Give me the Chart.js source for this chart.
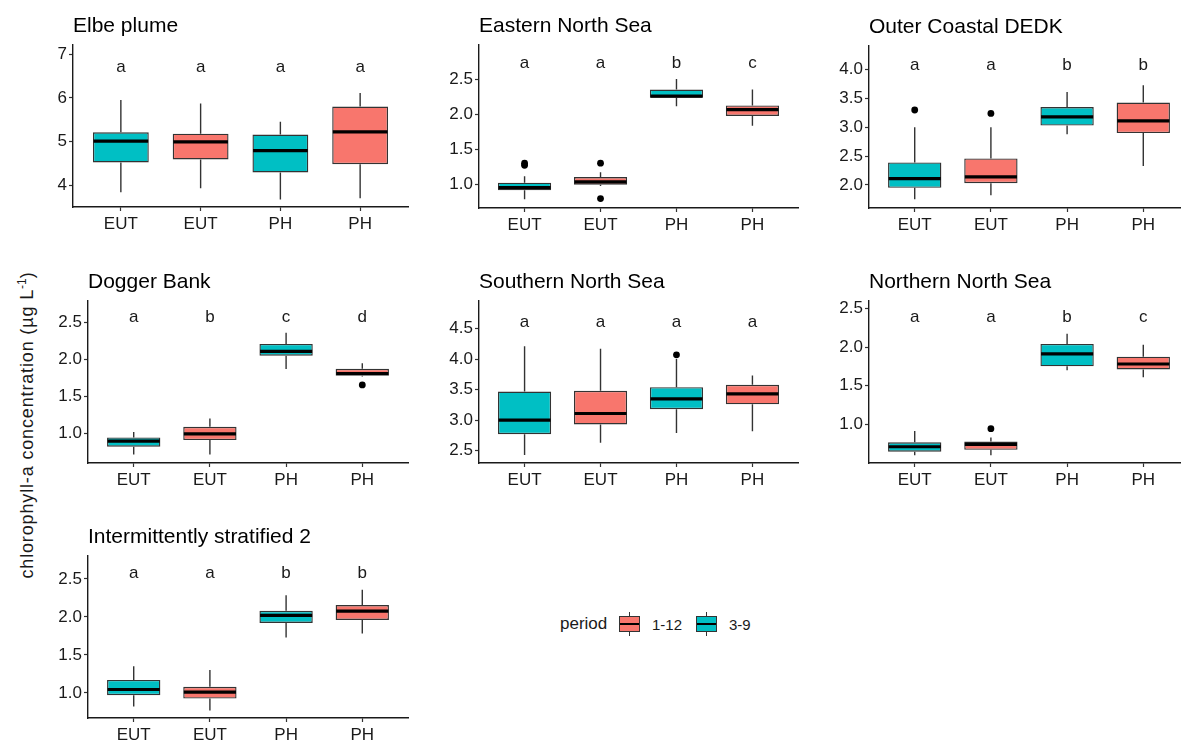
<!DOCTYPE html>
<html>
<head>
<meta charset="utf-8">
<title>Chlorophyll-a by region, station type and period</title>
<script src="https://cdn.jsdelivr.net/npm/chart.js@4.4.1/dist/chart.umd.min.js"></script>
<style>
  html, body { margin: 0; padding: 0; background: #fff; }
  body { width: 1181px; height: 740px; overflow: hidden; position: relative;
         font-family: "Liberation Sans", Arial, sans-serif; color: #1a1a1a; }
  canvas.panel { position: absolute; }
  #ytitle { position: absolute; left: 26px; top: 425px; white-space: nowrap;
            transform: translate(-50%, -50%) rotate(-90deg); font-size: 18px; letter-spacing: 0.85px; }
  #ytitle sup { font-size: 12px; letter-spacing: 0; }
  .leg { position: absolute; top: 624px; transform: translateY(-50%); white-space: nowrap; }
  .leg.title { font-size: 17px; }
  .leg.txt { font-size: 15px; }
  .key { position: absolute; top: 612px; width: 21px; height: 24px; }
  .key .wh { position: absolute; left: 9.8px; top: 0; bottom: 0; width: 1.4px; background: #333; }
  .key .bx { position: absolute; left: 0; top: 4px; width: 21px; height: 16px; box-sizing: border-box;
             border: 1.4px solid #333; }
  .key .bx::before { content: ""; position: absolute; left: 0; right: 0; top: 5.6px; height: 2.2px; background: #000; }
</style>
</head>
<body>
<div id="ytitle">chlorophyll-a concentration (µg L<sup>-1</sup>)</div>

<span class="leg title" style="left:560px">period</span>
<span class="key" style="left:619px"><i class="wh"></i><i class="bx" style="background:#F8766D"></i></span>
<span class="leg txt" style="left:652px">1-12</span>
<span class="key" style="left:696px"><i class="wh"></i><i class="bx" style="background:#00BFC4"></i></span>
<span class="leg txt" style="left:729px">3-9</span>

<script>
// ---- data -------------------------------------------------------------
const regionNames = ['Elbe plume', 'Eastern North Sea', 'Outer Coastal DEDK', 'Dogger Bank',
                     'Southern North Sea', 'Northern North Sea', 'Intermittently stratified 2'];
const stationTypes = ['EUT', 'EUT', 'PH', 'PH'];
const periodOfBox = ['3-9', '1-12', '3-9', '1-12'];
const periodColours = { '1-12': '#F8766D', '3-9': '#00BFC4' };

// five-number summaries, one row per region, one value per box
const lowerWhisker = [
  [3.84, 3.93, 3.67, 3.70],
  [0.78, 0.97, 2.12, 1.84],
  [1.75, 1.82, 2.88, 2.33],
  [0.715, 0.715, 1.87, 1.77],
  [2.43, 2.63, 2.79, 2.82],
  [0.60, 0.60, 1.70, 1.61],
  [0.82, 0.77, 1.73, 1.78]
];
const lowerQuartile = [
  [4.52, 4.59, 4.29, 4.48],
  [0.91, 0.99, 2.24, 1.98],
  [1.95, 2.03, 3.03, 2.90],
  [0.82, 0.91, 2.05, 1.78],
  [2.77, 2.93, 3.18, 3.26],
  [0.647, 0.67, 1.75, 1.71],
  [0.97, 0.925, 1.92, 1.96]
];
const medianValue = [
  [5.01, 4.99, 4.79, 5.22],
  [0.95, 1.03, 2.265, 2.07],
  [2.11, 2.14, 3.18, 3.11],
  [0.895, 0.995, 2.11, 1.81],
  [3.00, 3.11, 3.35, 3.43],
  [0.71, 0.74, 1.91, 1.78],
  [1.045, 1.01, 2.02, 2.075]
];
const upperQuartile = [
  [5.21, 5.18, 5.16, 5.80],
  [1.02, 1.10, 2.36, 2.13],
  [2.39, 2.46, 3.35, 3.43],
  [0.946, 1.09, 2.21, 1.873],
  [3.47, 3.48, 3.54, 3.58],
  [0.767, 0.777, 2.04, 1.875],
  [1.17, 1.08, 2.08, 2.155]
];
const upperWhisker = [
  [5.95, 5.87, 5.45, 6.11],
  [1.11, 1.17, 2.51, 2.36],
  [3.00, 3.00, 3.61, 3.73],
  [1.02, 1.20, 2.36, 1.95],
  [4.21, 4.17, 4.00, 3.73],
  [0.913, 0.83, 2.17, 2.03],
  [1.35, 1.30, 2.285, 2.355]
];
// outlying observations: [box index, value]
const outlierPoints = [
  [],
  [[0, 1.30], [0, 1.27], [1, 1.30], [1, 0.79]],
  [[0, 3.30], [1, 3.24]],
  [[3, 1.655]],
  [[2, 4.07]],
  [[1, 0.944]],
  []
];
// significance groups and the height they are printed at
const groupLetters = [
  ['a', 'a', 'a', 'a'],
  ['a', 'a', 'b', 'c'],
  ['a', 'a', 'b', 'b'],
  ['a', 'b', 'c', 'd'],
  ['a', 'a', 'a', 'a'],
  ['a', 'a', 'b', 'c'],
  ['a', 'a', 'b', 'b']
];
const letterLevel = [6.69, 2.74, 4.07, 2.57, 4.60, 2.38, 2.575];

// y axes
const yTickValues = [
  [4, 5, 6, 7],
  [1.0, 1.5, 2.0, 2.5],
  [2.0, 2.5, 3.0, 3.5, 4.0],
  [1.0, 1.5, 2.0, 2.5],
  [2.5, 3.0, 3.5, 4.0, 4.5],
  [1.0, 1.5, 2.0, 2.5],
  [1.0, 1.5, 2.0, 2.5]
];
const yLimits = [
  [3.50, 7.21], [0.655, 3.00], [1.60, 4.41], [0.60, 2.79],
  [2.30, 4.95], [0.50, 2.595], [0.67, 2.80]
];
const tickDecimals = [0, 1, 1, 1, 1, 1, 1];

// ---- layout: plot-area frame of each panel (left, top, right, bottom) ----
const panelFrames = [
  [73, 45, 408, 207], [479, 45, 798, 208], [869, 46, 1189, 208],
  [88, 301, 408, 463], [479, 301, 798, 463], [869, 301, 1189, 463],
  [88, 556, 408, 718]
];
const PAD_TOP = 45, Y_AXIS_W = 45, X_AXIS_H = 34, PAD_RIGHT = 6;
const FONT = '"Liberation Sans", Arial, sans-serif';
const INK = '#1a1a1a';

// whiskers, medians, panel titles and group letters
const boxplotParts = {
  id: 'boxplotParts',
  beforeDatasetsDraw(chart, args, opts) {
    const p = opts.panel, y = chart.scales.y, ctx = chart.ctx;
    const bars = chart.getDatasetMeta(0).data;
    ctx.save();
    ctx.strokeStyle = '#333';
    ctx.lineWidth = 1.4;
    bars.forEach((bar, i) => {
      ctx.beginPath();
      ctx.moveTo(bar.x, y.getPixelForValue(upperWhisker[p][i]));
      ctx.lineTo(bar.x, y.getPixelForValue(upperQuartile[p][i]));
      ctx.moveTo(bar.x, y.getPixelForValue(lowerQuartile[p][i]));
      ctx.lineTo(bar.x, y.getPixelForValue(lowerWhisker[p][i]));
      ctx.stroke();
    });
    ctx.restore();
  },
  afterDatasetsDraw(chart, args, opts) {
    const p = opts.panel, y = chart.scales.y, ctx = chart.ctx;
    const bars = chart.getDatasetMeta(0).data;
    ctx.save();
    ctx.strokeStyle = '#000';
    ctx.lineWidth = 3.2;
    bars.forEach((bar, i) => {
      const yy = y.getPixelForValue(medianValue[p][i]);
      ctx.beginPath();
      ctx.moveTo(bar.x - bar.width / 2 + 0.6, yy);
      ctx.lineTo(bar.x + bar.width / 2 - 0.6, yy);
      ctx.stroke();
    });
    ctx.restore();
  },
  afterDraw(chart, args, opts) {
    const p = opts.panel, ctx = chart.ctx;
    const { x, y } = chart.scales;
    ctx.save();
    ctx.fillStyle = '#000';
    ctx.font = '21px ' + FONT;
    ctx.textAlign = 'left';
    ctx.textBaseline = 'alphabetic';
    ctx.fillText(regionNames[p], chart.chartArea.left, chart.chartArea.top - 13);
    ctx.fillStyle = INK;
    ctx.font = '17px ' + FONT;
    ctx.textAlign = 'center';
    ctx.textBaseline = 'middle';
    groupLetters[p].forEach((g, i) => {
      ctx.fillText(g, x.getPixelForValue(i), y.getPixelForValue(letterLevel[p]));
    });
    ctx.restore();
  }
};

regionNames.forEach((name, p) => {
  const [L, T, R, B] = panelFrames[p];
  const cx = L - Y_AXIS_W, cy = T - PAD_TOP;
  const cw = R - cx + PAD_RIGHT, ch = PAD_TOP + (B - T) + X_AXIS_H;
  const canvas = document.createElement('canvas');
  canvas.className = 'panel';
  canvas.width = cw; canvas.height = ch;
  canvas.style.left = cx + 'px'; canvas.style.top = cy + 'px';
  canvas.style.width = cw + 'px'; canvas.style.height = ch + 'px';
  document.body.appendChild(canvas);

  const boxes = stationTypes.map((_, i) => ({ x: i, y: [lowerQuartile[p][i], upperQuartile[p][i]] }));
  const dots = outlierPoints[p].map(([i, v]) => ({ x: i, y: v }));

  new Chart(canvas, {
    type: 'bar',
    data: {
      datasets: [
        {
          type: 'bar',
          data: boxes,
          backgroundColor: periodOfBox.map(k => periodColours[k]),
          borderColor: '#333',
          borderWidth: 1.4,
          borderSkipped: false,
          barPercentage: 0.7,
          categoryPercentage: 1.0
        },
        {
          type: 'scatter',
          data: dots,
          pointRadius: 3.4,
          pointBackgroundColor: '#000',
          pointBorderWidth: 0
        }
      ]
    },
    plugins: [boxplotParts],
    options: {
      responsive: false,
      animation: false,
      devicePixelRatio: 1,
      events: [],
      layout: { padding: { top: PAD_TOP, right: PAD_RIGHT, left: 0, bottom: 0 } },
      plugins: {
        legend: { display: false },
        tooltip: { enabled: false },
        boxplotParts: { panel: p }
      },
      scales: {
        x: {
          type: 'linear',
          min: -0.6, max: 3.6,
          offset: false,
          afterFit: s => { s.height = X_AXIS_H; },
          afterBuildTicks: s => { s.ticks = stationTypes.map((_, i) => ({ value: i })); },
          ticks: {
            autoSkip: false, maxRotation: 0, padding: 3,
            color: INK, font: { family: FONT, size: 17 },
            callback: v => stationTypes[v]
          },
          grid: { display: true, offset: false, drawOnChartArea: false, drawTicks: true,
                  tickLength: 4, tickWidth: 1.2, tickColor: '#333' },
          border: { display: true, color: INK, width: 1.4 }
        },
        y: {
          type: 'linear',
          min: yLimits[p][0], max: yLimits[p][1],
          afterFit: s => { s.width = Y_AXIS_W; },
          afterBuildTicks: s => { s.ticks = yTickValues[p].map(v => ({ value: v })); },
          ticks: {
            padding: 2, color: INK, font: { family: FONT, size: 17 },
            callback: v => Number(v).toFixed(tickDecimals[p])
          },
          grid: { display: true, drawOnChartArea: false, drawTicks: true,
                  tickLength: 4, tickWidth: 1.2, tickColor: '#333' },
          border: { display: true, color: INK, width: 1.4 }
        }
      }
    }
  });
});
</script>
</body>
</html>
